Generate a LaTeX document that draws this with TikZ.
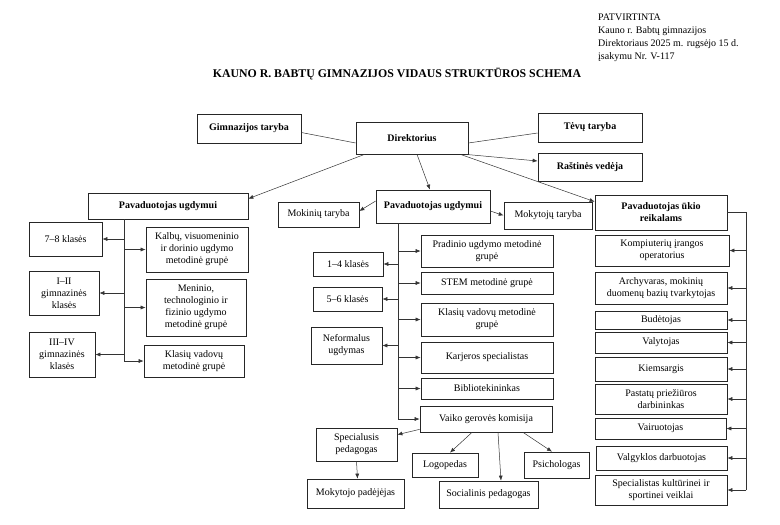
\documentclass[tikz,border=0pt]{standalone}
\usepackage{fontspec}
\setmainfont{Liberation Serif}
\usetikzlibrary{arrows.meta}
\tikzset{
  box/.style={draw=black!85, line width=0.7pt, align=center, inner sep=1pt, font=\fontsize{10}{12}\selectfont},
  hbox/.style={box, font=\fontsize{10}{12}\selectfont\bfseries},
  sz/.style 2 args={minimum width=#1pt, minimum height=#2pt},
  link/.style={draw=black!80, line width=0.5pt},
  arr/.style={link, -{Latex[length=5pt,width=4pt]}},
}

\begin{document}
\begin{tikzpicture}[x=1pt,y=-1pt]
\useasboundingbox (0,0) rectangle (780,525);

%heading
\node[anchor=north west, align=left, inner sep=0pt, font=\fontsize{10}{13}\selectfont] (appr) at (598,14)
  {PATVIRTINTA\\Kauno r. Babtų gimnazijos\\Direktoriaus 2025 m. rugsėjo 15 d.\\įsakymu Nr. V-117};
\node[font=\fontsize{11.8}{14}\selectfont\bfseries] (title) at (397,74) {KAUNO R. BABTŲ GIMNAZIJOS VIDAUS STRUKTŪROS SCHEMA};

%top level
\node[hbox, sz={104}{29}] (gt) at (249,128.5) {Gimnazijos taryba};
\node[hbox, sz={112}{32}] (dir) at (412,138) {Direktorius};
\node[hbox, sz={104}{29}] (tt) at (590,127.5) {Tėvų taryba};
\node[hbox, sz={104}{28}] (rv) at (590,167) {Raštinės vedėja};
\node[hbox, sz={160}{26}] (pu1) at (168,206) {Pavaduotojas ugdymui};
\node[hbox, sz={114}{33}] (pu2) at (433,206.5) {Pavaduotojas ugdymui};
\node[box, sz={81}{25}] (mokt) at (318.5,214.5) {Mokinių taryba};
\node[box, sz={88}{27}] (mokyt) at (548,215.5) {Mokytojų taryba};
\node[hbox, sz={132}{35}] (puk) at (661,212.5) {Pavaduotojas ūkio\\reikalams};

%left branch
\node[box, sz={73}{34}] (k78) at (65.5,239) {7–8 klasės};
\node[box, sz={70}{44}] (k12) at (64,293) {I–II\\gimnazinės\\klasės};
\node[box, sz={66}{45}] (k34) at (62,354.5) {III–IV\\gimnazinės\\klasės};
\node[box, sz={102}{45}] (mg1) at (197,249.5) {Kalbų, visuomeninio\\ir dorinio ugdymo\\metodinė grupė};
\node[box, sz={100}{57}] (mg2) at (196,307.5) {Meninio,\\technologinio ir\\fizinio ugdymo\\metodinė grupė};
\node[box, sz={100}{32}] (mg3) at (194,361) {Klasių vadovų\\metodinė grupė};

%middle branch
\node[box, sz={70}{24}] (c14) at (348,264) {1–4 klasės};
\node[box, sz={69}{24}] (c56) at (347.5,299) {5–6 klasės};
\node[box, sz={71}{37}] (nu) at (346.5,345.5) {Neformalus\\ugdymas};
\node[box, sz={132}{32}] (m1) at (487,251) {Pradinio ugdymo metodinė\\grupė};
\node[box, sz={132}{22}] (m2) at (487,283) {STEM metodinė grupė};
\node[box, sz={132}{33}] (m3) at (487,319.5) {Klasių vadovų metodinė\\grupė};
\node[box, sz={132}{31}] (m4) at (487,357.5) {Karjeros specialistas};
\node[box, sz={132}{21}] (m5) at (487,388.5) {Bibliotekininkas};
\node[box, sz={132}{26}] (vgk) at (486,419) {Vaiko gerovės komisija};
\node[box, sz={81}{33}] (sp) at (356.5,444.5) {Specialusis\\pedagogas};
\node[box, sz={97}{29}] (mp) at (355.5,493.5) {Mokytojo padėjėjas};
\node[box, sz={66}{24}] (lg) at (445,465) {Logopedas};
\node[box, sz={99}{27}] (sop) at (488.5,494.5) {Socialinis pedagogas};
\node[box, sz={65}{26}] (ps) at (556.5,465) {Psichologas};

%right branch
\node[box, sz={134}{31}] (r1) at (662,250.5) {Kompiuterių įrangos\\operatorius};
\node[box, sz={132}{32}] (r2) at (661,288) {Archyvaras, mokinių\\duomenų bazių tvarkytojas};
\node[box, sz={132}{18}] (r3) at (661,320) {Budėtojas};
\node[box, sz={132}{21}] (r4) at (661,342.5) {Valytojas};
\node[box, sz={132}{24}] (r5) at (661,369) {Kiemsargis};
\node[box, sz={132}{30}] (r6) at (661,399) {Pastatų priežiūros\\darbininkas};
\node[box, sz={131}{21}] (r7) at (660.5,428.5) {Vairuotojas};
\node[box, sz={131}{24}] (r8) at (661.5,458) {Valgyklos darbuotojas};
\node[box, sz={132}{30}] (r9) at (661,490) {Specialistas kultūrinei ir\\sportinei veiklai};

%director links
\draw[link] ([yshift=-4pt]gt.east) -- ([yshift=-5pt]dir.west);
\draw[link] ([yshift=-5pt]dir.east) -- ([yshift=-5.5pt]tt.west);
\draw[arr] ([xshift=-3pt]dir.south east) -- ([yshift=6pt]rv.west);
\draw[arr] ([xshift=-8pt]dir.south east) -- ([yshift=-7pt]puk.north west);
\draw[arr] ([xshift=9pt]dir.south west) -- ([yshift=-6pt]pu1.north east);
\draw[arr] ([xshift=5pt]dir.south) -- ([xshift=-3pt]pu2.north);
\draw[arr] ([yshift=5.5pt]pu2.west) -- ([yshift=3.5pt]mokt.east);
\draw[arr] ([yshift=-4.5pt]pu2.east) -- (mokyt.west);

%left bus
\coordinate (lbus) at ([xshift=-44pt]pu1.south);
\draw[link] (lbus) -- (lbus |- mg3.west);
\foreach \n in {k78,k12,k34} \draw[arr] (lbus |- \n.east) -- (\n.east);
\foreach \n in {mg1,mg2,mg3} \draw[arr] (lbus |- \n.west) -- (\n.west);

%middle bus
\coordinate (cbus) at ([xshift=-35pt]pu2.south);
\draw[link] (cbus) -- (cbus |- vgk.west);
\foreach \n in {c14,c56,nu} \draw[arr] (cbus |- \n.east) -- (\n.east);
\foreach \n in {m1,m2,m3,m4,m5,vgk} \draw[arr] (cbus |- \n.west) -- (\n.west);

%child welfare commission
\draw[arr] ([yshift=3pt]vgk.south west) -- ([yshift=-7pt]sp.north east);
\draw[arr] (sp.south) -- ([xshift=2pt]mp.north);
\draw[arr] ([xshift=-14pt]vgk.south) -- ([xshift=5pt]lg.north);
\draw[arr] ([xshift=12pt]vgk.south) -- ([xshift=12.5pt]sop.north);
\draw[arr] ([xshift=37pt]vgk.south) -- ([xshift=-4.5pt]ps.north);

%right bus
\coordinate (rbus) at ([xshift=19pt]puk.east);
\draw[link] (puk.east) -- (rbus) -- (rbus |- r9.east);
\foreach \n in {r1,r2,r3,r4,r5,r6,r7,r8,r9} \draw[arr] (rbus |- \n.east) -- (\n.east);

\end{tikzpicture}
\end{document}
